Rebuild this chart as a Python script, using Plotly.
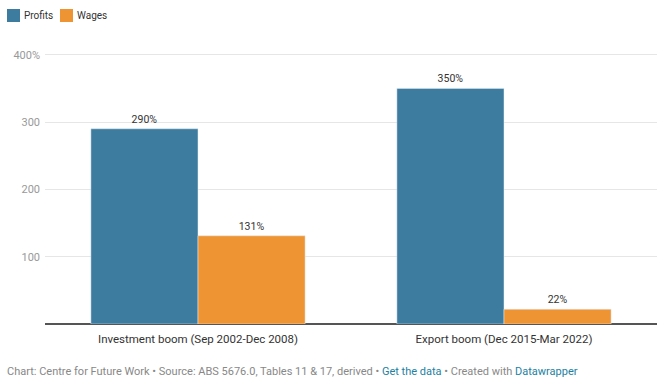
import plotly.graph_objects as go

categories = ["Investment boom (Sep 2002-Dec 2008)", "Export boom (Dec 2015-Mar 2022)"]
profits = [290, 350]
wages = [131, 22]
tick_vals = [100, 200, 300, 400]
tick_text = ["100", "200", "300", "400%"]
series_names = ["Profits", "Wages"]

blue = "#3d7c9e"
orange = "#ee9433"

W, Hfig = 657, 381
ML, MR, MT, MB = 45, 0, 48, 57
PW = W - ML - MR
PH = Hfig - MT - MB


def px_x(x):
    return (x - ML) / PW


def px_y(y):
    return (Hfig - MB - y) / PH


fig = go.Figure()
fig.add_trace(go.Bar(name=series_names[0], x=categories, y=profits, marker_color=blue,
                     text=[f"{v}%" for v in profits], textposition="outside",
                     textfont=dict(size=10.5, color="#333"), cliponaxis=False))
fig.add_trace(go.Bar(name=series_names[1], x=categories, y=wages, marker_color=orange,
                     text=[f"{v}%" for v in wages], textposition="outside",
                     textfont=dict(size=10.5, color="#333"), cliponaxis=False))

fig.update_layout(
    width=W, height=Hfig,
    margin=dict(l=ML, r=MR, t=MT, b=MB),
    barmode="group", bargap=0.3, bargroupgap=0,
    plot_bgcolor="white", paper_bgcolor="white",
    font=dict(family="Roboto, Arial, sans-serif", color="#333"),
    showlegend=False,
    yaxis=dict(range=[0, 410], tickvals=tick_vals, ticktext=tick_text,
               showgrid=True, gridcolor="#e6e6e6", zeroline=True,
               zerolinecolor="#555", zerolinewidth=1.5,
               tickfont=dict(size=11, color="#999"), ticklabelstandoff=4),
    xaxis=dict(tickfont=dict(size=11.5, color="#333"), showline=False,
               ticklabelstandoff=6),
)

# Legend drawn manually (Datawrapper style)
legend_items = [(series_names[0], blue, 7), (series_names[1], orange, 60)]
for name, col, x0 in legend_items:
    fig.add_shape(type="rect", xref="paper", yref="paper",
                  x0=px_x(x0), x1=px_x(x0 + 13),
                  y0=px_y(22), y1=px_y(9),
                  fillcolor=col, line=dict(width=0))
    fig.add_annotation(xref="paper", yref="paper", x=px_x(x0 + 15),
                       y=px_y(16), xanchor="left", yanchor="middle",
                       showarrow=False, text=name, font=dict(size=10, color="#333"))

fig.add_annotation(
    xref="paper", yref="paper", x=px_x(5), y=px_y(371), xanchor="left", yanchor="middle",
    showarrow=False, align="left", font=dict(size=11, color="#888"),
    text="Chart: Centre for Future Work • Source: ABS 5676.0, Tables 11 &amp; 17, derived • "
         "<span style='color:#1d81a2'>Get the data</span> • Created with "
         "<span style='color:#1d81a2'>Datawrapper</span>",
)

fig.write_html("out.html")
